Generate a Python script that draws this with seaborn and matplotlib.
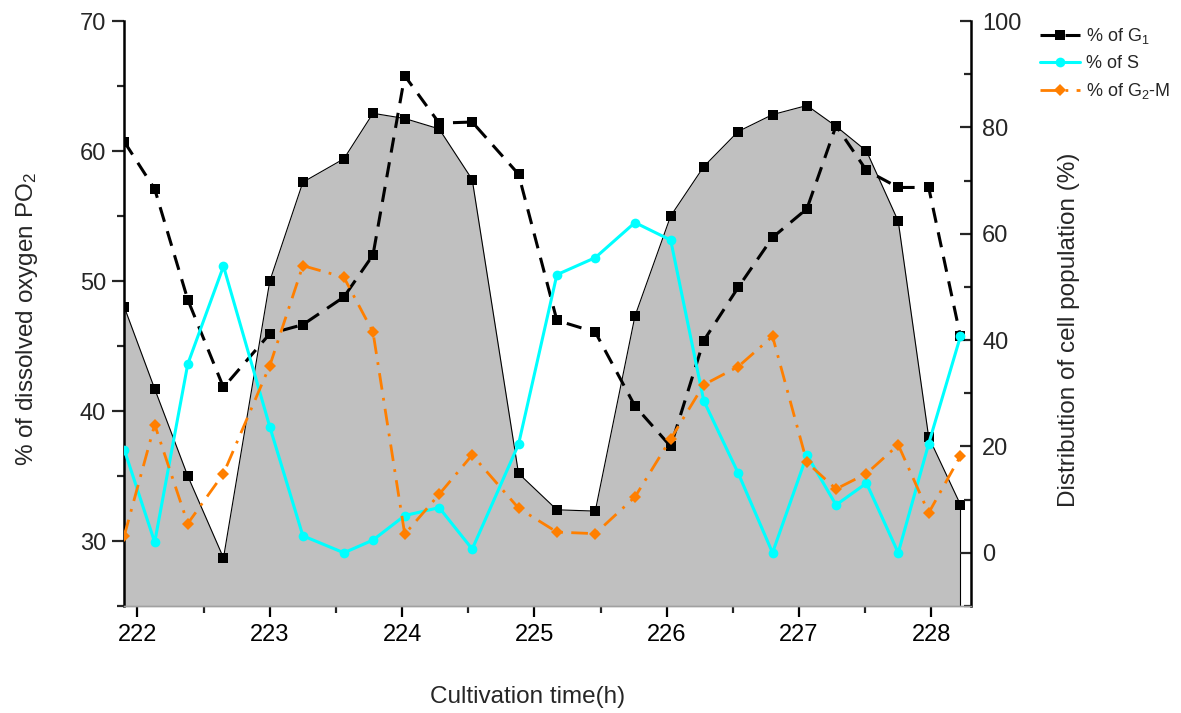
import matplotlib
matplotlib.use("Agg")
import matplotlib.pyplot as plt
import seaborn as sns
import pandas as pd
import numpy as np
from matplotlib.ticker import MultipleLocator

# ---------------- data ----------------
time_h = [221.90, 222.13, 222.38, 222.65, 223.00, 223.25, 223.56, 223.78, 224.02,
          224.28, 224.53, 224.88, 225.17, 225.46, 225.76, 226.03, 226.28, 226.54,
          226.80, 227.06, 227.28, 227.51, 227.75, 227.98, 228.22]
po2 = [48.0, 41.7, 35.0, 28.7, 50.0, 57.6, 59.4, 62.9, 62.5, 61.7, 57.8, 35.2,
       32.4, 32.3, 47.3, 55.0, 58.8, 61.5, 62.8, 63.5, 61.9, 60.0, 54.6, 38.0, 32.8]
g1 = [77.3, 68.4, 47.6, 31.1, 41.2, 42.9, 48.1, 56.0, 89.7, 80.8, 81.0, 71.2,
      43.7, 41.5, 27.6, 20.0, 39.9, 49.9, 59.3, 64.7, 80.3, 71.9, 68.7, 68.7, 40.7]
s_phase = [19.4, 2.0, 35.5, 53.9, 23.7, 3.2, 0.0, 2.4, 7.0, 8.5, 0.7, 20.4,
           52.3, 55.5, 62.1, 58.8, 28.6, 15.0, 0.0, 18.4, 9.0, 13.1, 0.0, 20.5, 40.7]
g2m = [3.2, 24.1, 5.5, 14.9, 35.2, 54.0, 51.8, 41.5, 3.5, 11.0, 18.4, 8.4,
       3.9, 3.6, 10.5, 21.4, 31.6, 35.0, 40.7, 17.0, 12.0, 14.9, 20.3, 7.5, 18.2]

labels = ["% of G$_1$", "% of S", "% of G$_2$-M"]
xlabel = "Cultivation time(h)"
ylabel_left = "% of dissolved oxygen PO$_2$"
ylabel_right = "Distribution of cell population (%)"

df = pd.DataFrame({"time": time_h, "po2": po2, "g1": g1, "s": s_phase, "g2m": g2m})

# ---------------- style ----------------
sns.set_theme(style="white")
plt.rcParams["font.family"] = ["Liberation Sans", "DejaVu Sans"]
plt.rcParams["mathtext.fontset"] = "custom"
plt.rcParams["mathtext.rm"] = "Liberation Sans"
plt.rcParams["mathtext.it"] = "Liberation Sans"
plt.rcParams["mathtext.default"] = "regular"

fig = plt.figure(figsize=(11.81, 7.13), dpi=100)
W, H = 1181, 713
ax = fig.add_axes([124 / W, 1 - 606 / H, (971 - 124) / W, (606 - 21) / H])
ax2 = ax.twinx()

y0 = 25
# gray PO2 area
ax.fill_between(df["time"], df["po2"], y0, color="#C0C0C0", linewidth=0, zorder=1)
sns.lineplot(data=df, x="time", y="po2", ax=ax, color="black", linewidth=0.8,
             marker="s", markersize=6.5, markeredgewidth=0, estimator=None,
             sort=False, zorder=2)
ax.vlines(df["time"].iloc[-1], y0, df["po2"].iloc[-1], color="black", linewidth=0.8, zorder=2)

# right axis series
sns.lineplot(data=df, x="time", y="g1", ax=ax2, color="black", linewidth=2.2,
             linestyle=(0, (5, 3.2)), marker="s", markersize=6.5, markeredgewidth=0,
             estimator=None, sort=False, label=labels[0])
sns.lineplot(data=df, x="time", y="s", ax=ax2, color="#00FFFF", linewidth=2.2,
             marker="o", markersize=7, markeredgewidth=0,
             estimator=None, sort=False, label=labels[1])
sns.lineplot(data=df, x="time", y="g2m", ax=ax2, color="#FF7F00", linewidth=2.0,
             linestyle=(0, (6, 3, 1, 3)), marker="D", markersize=6.5, markeredgewidth=0,
             estimator=None, sort=False, label=labels[2])

# axes limits and ticks
ax.set_xlim(221.898, 228.30)
ax.set_ylim(25, 70)
ax2.set_ylim(-10, 100)
ax.xaxis.set_major_locator(MultipleLocator(1))
ax.xaxis.set_minor_locator(MultipleLocator(0.5))
ax.yaxis.set_major_locator(MultipleLocator(10))
ax.yaxis.set_minor_locator(MultipleLocator(5))
ax2.yaxis.set_major_locator(MultipleLocator(20))
ax2.yaxis.set_minor_locator(MultipleLocator(10))

tick_fs = 17
ax.tick_params(axis="x", which="major", direction="out", length=8, width=1.6,
               labelsize=tick_fs, pad=5, bottom=True, colors="black")
ax.tick_params(axis="x", which="minor", direction="out", length=5, width=1.6, bottom=True)
ax.tick_params(axis="y", which="major", direction="out", length=9, width=1.6,
               labelsize=tick_fs, pad=4, left=True)
ax.tick_params(axis="y", which="minor", direction="out", length=5, width=1.6, left=True)
ax2.tick_params(axis="y", which="major", direction="in", length=8, width=1.6,
                labelsize=tick_fs, pad=8, right=True)
ax2.tick_params(axis="y", which="minor", direction="in", length=5, width=1.6, right=True)

for a in (ax, ax2):
    a.spines["top"].set_visible(False)
    a.spines["bottom"].set_color("#A0A0A0")
    a.spines["bottom"].set_linewidth(1.0)
ax.spines["left"].set_linewidth(1.8)
ax.spines["left"].set_color("black")
ax2.spines["right"].set_linewidth(1.8)
ax2.spines["right"].set_color("black")
ax.spines["right"].set_visible(False)
ax2.spines["left"].set_visible(False)
ax.grid(False)
ax2.grid(False)

ax.set_xlabel(xlabel, fontsize=17.5)
ax.xaxis.set_label_coords(0.477, -0.137)
ax.set_ylabel(ylabel_left, fontsize=17.5)
ax.yaxis.set_label_coords(-0.099, 0.49)
ax2.set_ylabel(ylabel_right, fontsize=17.5)
ax2.yaxis.set_label_coords(1.103, 0.472)

leg = ax2.legend(loc="upper left", bbox_to_anchor=(1040 / W, 1 - 26 / H),
                 bbox_transform=fig.transFigure, frameon=False, fontsize=13,
                 handlelength=2.2, handletextpad=0.35, labelspacing=0.5,
                 borderpad=0, borderaxespad=0)

fig.savefig("out.png", dpi=100)
